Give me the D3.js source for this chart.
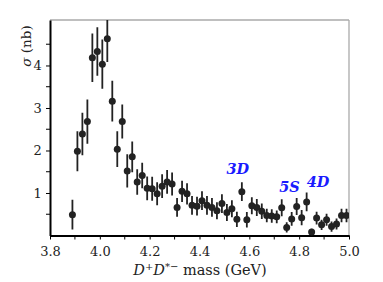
<!DOCTYPE html>
<html><head><meta charset="utf-8">
<script src="https://cdn.jsdelivr.net/npm/d3@7"></script>
<style>body{margin:0;background:#fff}svg{display:block}</style>
</head><body>
<script>
const masses = [3.89,3.91,3.93,3.95,3.97,3.99,4.01,4.03,4.05,4.07,4.09,4.11,4.13,4.15,4.17,4.19,4.21,4.23,4.25,4.27,4.29,4.31,4.33,4.35,4.37,4.39,4.41,4.43,4.45,4.47,4.49,4.51,4.53,4.55,4.57,4.59,4.61,4.63,4.65,4.67,4.69,4.71,4.73,4.75,4.77,4.79,4.81,4.83,4.85,4.87,4.89,4.91,4.93,4.95,4.97,4.99];
const sigma = [0.49,1.98,2.39,2.68,4.18,4.33,4.03,4.63,3.16,2.03,2.68,1.52,1.85,1.26,1.41,1.11,1.10,0.98,1.16,1.26,1.21,0.66,1.04,0.98,0.71,0.69,0.82,0.71,0.66,0.58,0.75,0.54,0.63,0.38,1.03,0.37,0.70,0.66,0.57,0.47,0.46,0.44,0.65,0.19,0.39,0.68,0.42,0.79,0.08,0.41,0.25,0.37,0.21,0.27,0.47,0.47];
const errors = [0.35,0.47,0.50,0.52,0.57,0.57,0.58,0.55,0.48,0.42,0.40,0.39,0.36,0.30,0.30,0.28,0.28,0.27,0.28,0.28,0.27,0.22,0.25,0.25,0.22,0.22,0.22,0.22,0.22,0.20,0.22,0.20,0.20,0.18,0.22,0.18,0.20,0.20,0.18,0.16,0.16,0.15,0.20,0.12,0.16,0.20,0.18,0.22,0.08,0.15,0.12,0.14,0.12,0.13,0.16,0.16];
const xTicks = [3.8,4.0,4.2,4.4,4.6,4.8,5.0];
const xMinor = [3.9,4.1,4.3,4.5,4.7,4.9];
const yTicks = [1,2,3,4];
const yMinor = [0.5,1.5,2.5,3.5,4.5];
const stateLabels = ["3D","5S","4D"];
const stateMass = [4.554,4.761,4.876];
const stateSigma = [1.45,1.02,1.15];

const W=383,H=282;
const L=50,R=349,T=20,B=235.5;
const x=d3.scaleLinear().domain([3.8,5.0]).range([L,R]);
const y=d3.scaleLinear().domain([0,5.07]).range([B,T]);
const svg=d3.select("body").append("svg").attr("width",W).attr("height",H);
const font="DejaVu Serif";

svg.append("clipPath").attr("id","c").append("rect").attr("x",L).attr("y",T).attr("width",R-L).attr("height",B-T);

// frame top/right gray
svg.append("line").attr("x1",L).attr("x2",R).attr("y1",T).attr("y2",T).attr("stroke","#aaa").attr("stroke-width",1.3);
svg.append("line").attr("x1",R).attr("x2",R).attr("y1",T).attr("y2",B).attr("stroke","#aaa").attr("stroke-width",1.3);

// x axis
const xa=svg.append("g").attr("transform",`translate(0,${B})`)
  .call(d3.axisBottom(x).tickValues(xTicks).tickFormat(d3.format(".1f")).tickSize(4).tickSizeOuter(0));
xa.append("g").selectAll("line").data(xMinor).join("line").attr("x1",d=>x(d)).attr("x2",d=>x(d)).attr("y1",0).attr("y2",4).attr("stroke","#000");
xa.select(".domain").attr("stroke-width",2);
xa.selectAll("text").attr("font-family",font).attr("font-size",13).attr("fill","#222").attr("dy","1.05em");

// y axis
const ya=svg.append("g").attr("transform",`translate(${L},0)`)
  .call(d3.axisLeft(y).tickValues(yTicks).tickFormat(d3.format("d")).tickSize(4).tickSizeOuter(0));
ya.append("g").selectAll("line").data(yMinor).join("line").attr("y1",d=>y(d)).attr("y2",d=>y(d)).attr("x1",0).attr("x2",-4).attr("stroke","#000");
ya.select(".domain").attr("stroke-width",2);
ya.selectAll("text").attr("font-family",font).attr("font-size",13).attr("fill","#222").attr("dx","-0.1em");

// data
const g=svg.append("g").attr("clip-path","url(#c)");
g.selectAll("line.err").data(masses).join("line").attr("class","err")
  .attr("x1",d=>x(d)).attr("x2",d=>x(d))
  .attr("y1",(d,i)=>y(sigma[i]-errors[i])).attr("y2",(d,i)=>y(sigma[i]+errors[i]))
  .attr("stroke","#222").attr("stroke-width",1.8);
g.selectAll("circle").data(masses).join("circle")
  .attr("cx",d=>x(d)).attr("cy",(d,i)=>y(sigma[i])).attr("r",3.5).attr("fill","#222");

// state labels
svg.selectAll("text.st").data(stateLabels).join("text").attr("class","st")
  .attr("x",(d,i)=>x(stateMass[i])).attr("y",(d,i)=>y(stateSigma[i]))
  .attr("text-anchor","middle").attr("font-family",font).attr("font-style","italic").attr("font-weight","bold")
  .attr("font-size",14.5).attr("fill","#1a1aff").text(d=>d);

// y label
const yl=svg.append("text").attr("transform","translate(31,46) rotate(-90)").attr("text-anchor","middle")
  .attr("font-family",font).attr("font-size",13.5).attr("fill","#222");
yl.append("tspan").attr("font-style","italic").text("σ");
yl.append("tspan").text(" (nb)");

// x label
const xl=svg.append("text").attr("x",200).attr("y",275).attr("text-anchor","middle")
  .attr("font-family",font).attr("font-size",14.5).attr("fill","#222");
xl.append("tspan").attr("font-style","italic").text("D");
xl.append("tspan").attr("font-size",10).attr("dy",-5).text("+");
xl.append("tspan").attr("font-style","italic").attr("dy",5).text("D");
xl.append("tspan").attr("font-size",10).attr("dy",-5).text("*−");
xl.append("tspan").attr("dy",5).text(" mass (GeV)");
</script>
</body></html>
